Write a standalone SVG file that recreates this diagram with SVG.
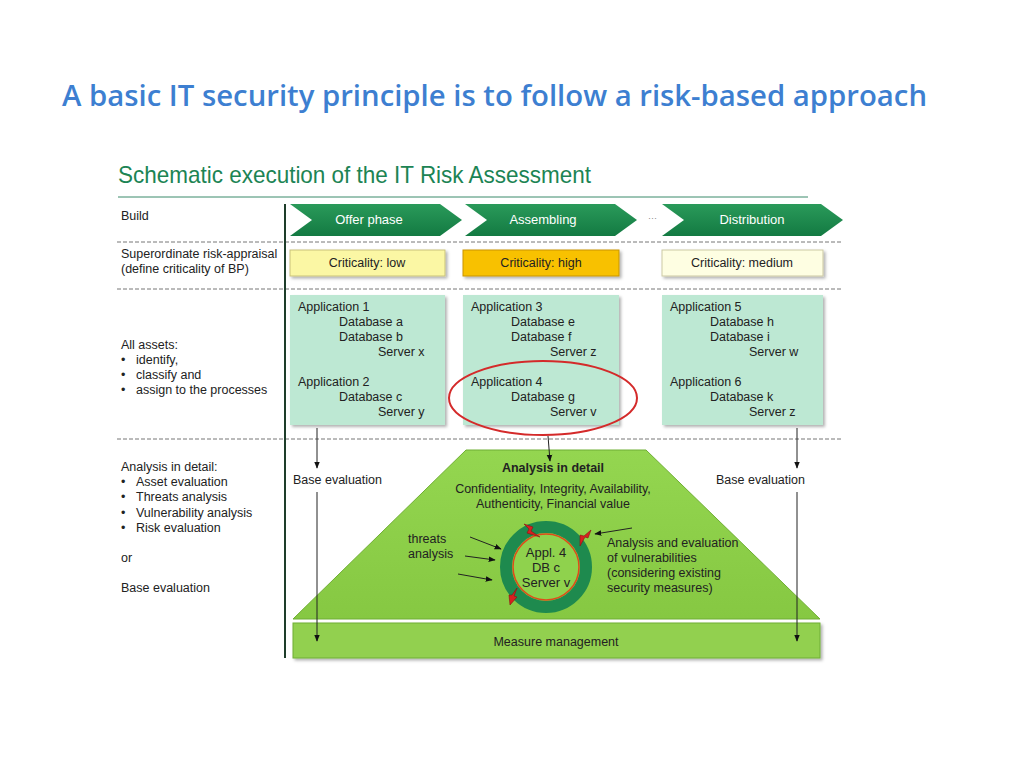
<svg xmlns="http://www.w3.org/2000/svg" width="1024" height="768" viewBox="0 0 1024 768">
<defs>
<linearGradient id="chev" x1="0" y1="0" x2="0" y2="1"><stop offset="0" stop-color="#2a9a5a"/><stop offset="1" stop-color="#137a42"/></linearGradient>
<linearGradient id="trap" x1="0" y1="0" x2="0" y2="1"><stop offset="0" stop-color="#94d650"/><stop offset="1" stop-color="#86c842"/></linearGradient>
<marker id="ah" viewBox="0 0 10 10" refX="9" refY="5" markerWidth="7" markerHeight="7" orient="auto"><path d="M0,1 L10,5 L0,9 z" fill="#111"/></marker>
<filter id="sh" x="-5%" y="-5%" width="115%" height="125%"><feDropShadow dx="2" dy="2" stdDeviation="1.5" flood-color="#000" flood-opacity="0.3"/></filter>
</defs>
<style>
text{font-family:"Liberation Sans",Arial,sans-serif;font-size:12.5px;fill:#222}
.c{text-anchor:middle}
.w{fill:#fff;font-size:13px}
.dash{stroke:#777;stroke-width:1;stroke-dasharray:4,2}
.asset{fill:#bde8d3;filter:url(#sh)}
.ln{stroke:#222;stroke-width:1;fill:none}
.bolt{fill:#d82020;stroke:#8a1010;stroke-width:0.6}
</style>
<rect width="1024" height="768" fill="#fff"/>
<text x="62" y="106" textLength="865" lengthAdjust="spacingAndGlyphs" style="font-family:'Open Sans','Liberation Sans',sans-serif;font-size:28px;font-weight:600;fill:#3d7fd1">A basic IT security principle is to follow a risk-based approach</text>
<text x="118" y="183" textLength="473" lengthAdjust="spacingAndGlyphs" style="font-size:24px;fill:#1c8454">Schematic execution of the IT Risk Assessment</text>
<line x1="118" y1="197" x2="808" y2="197" stroke="#3a8a6a" stroke-width="1"/>

<g id="grid">
<line class="dash" x1="117" y1="242" x2="843" y2="242"/>
<line class="dash" x1="117" y1="289" x2="843" y2="289"/>
<line class="dash" x1="117" y1="439" x2="843" y2="439"/>
<line x1="285" y1="204" x2="285" y2="658" stroke="#1e3d2a" stroke-width="2"/>
</g>

<g id="labels">
<text x="121" y="220">Build</text>
<text x="121" y="258">Superordinate risk-appraisal</text>
<text x="121" y="273">(define criticality of BP)</text>
<text x="121" y="349">All assets:</text>
<text x="121" y="364">•</text><text x="136" y="364">identify,</text>
<text x="121" y="379">•</text><text x="136" y="379">classify and</text>
<text x="121" y="394">•</text><text x="136" y="394">assign to the processes</text>
<text x="121" y="471">Analysis in detail:</text>
<text x="121" y="486">•</text><text x="136" y="486">Asset evaluation</text>
<text x="121" y="501">•</text><text x="136" y="501">Threats analysis</text>
<text x="121" y="517">•</text><text x="136" y="517">Vulnerability  analysis</text>
<text x="121" y="532">•</text><text x="136" y="532">Risk evaluation</text>
<text x="121" y="562">or</text>
<text x="121" y="592">Base evaluation</text>
</g>

<g id="phase-offer"><path d="M290,204 L440,204 L462,220 L440,236 L290,236 L312,220 Z" fill="url(#chev)"/><text class="c w" x="369" y="224">Offer phase</text></g>
<g id="phase-assembling"><path d="M465,204 L615,204 L637,220 L615,236 L465,236 L487,220 Z" fill="url(#chev)"/><text class="c w" x="543" y="224">Assembling</text></g>
<text x="648" y="221" style="font-size:9px;fill:#888">···</text>
<g id="phase-distribution"><path d="M662,204 L821,204 L843,220 L821,236 L662,236 L684,220 Z" fill="url(#chev)"/><text class="c w" x="752" y="224">Distribution</text></g>

<g id="crit-low"><rect x="290" y="250" width="155" height="26" fill="#fbf7a4" stroke="#c9c27a" stroke-width="1" filter="url(#sh)"/><text class="c" x="367" y="267">Criticality:  low</text></g>
<g id="crit-high"><rect x="463" y="250" width="156" height="26" fill="#f8c102" stroke="#c99400" stroke-width="1" filter="url(#sh)"/><text class="c" x="541" y="267">Criticality:  high</text></g>
<g id="crit-medium"><rect x="662" y="250" width="161" height="26" fill="#fefee2" stroke="#ccc9a4" stroke-width="1" filter="url(#sh)"/><text class="c" x="742" y="267">Criticality:  medium</text></g>

<g id="assets-1"><rect class="asset" x="290" y="295" width="155" height="130"/>
<text x="298" y="311">Application  1</text><text x="339" y="326">Database a</text><text x="339" y="341">Database b</text><text x="378" y="356">Server x</text>
<text x="298" y="386">Application  2</text><text x="339" y="401">Database c</text><text x="378" y="416">Server y</text></g>
<g id="assets-2"><rect class="asset" x="463" y="295" width="156" height="130"/>
<text x="471" y="311">Application  3</text><text x="511" y="326">Database e</text><text x="511" y="341">Database f</text><text x="550" y="356">Server z</text>
<text x="471" y="386">Application  4</text><text x="511" y="401">Database g</text><text x="550" y="416">Server v</text></g>
<g id="assets-3"><rect class="asset" x="662" y="295" width="161" height="130"/>
<text x="670" y="311">Application  5</text><text x="710" y="326">Database h</text><text x="710" y="341">Database i</text><text x="749" y="356">Server w</text>
<text x="670" y="386">Application  6</text><text x="710" y="401">Database k</text><text x="749" y="416">Server z</text></g>
<ellipse id="highlight" cx="543" cy="398" rx="94" ry="37" fill="none" stroke="#d42a2a" stroke-width="2"/>

<g id="analysis">
<path d="M466,450 L646,450 L820,619 L293,619 Z" fill="url(#trap)" stroke="#6fae34" stroke-width="1"/>
<text class="c" x="553" y="472" style="font-weight:bold">Analysis  in detail</text>
<text class="c" x="553" y="493">Confidentiality,  Integrity,  Availability,</text>
<text class="c" x="553" y="508">Authenticity,  Financial value</text>
<circle cx="546" cy="567" r="40" fill="none" stroke="#1e8a4e" stroke-width="12"/>
<circle cx="546" cy="567" r="33" fill="#8fd24d" stroke="#e04a1a" stroke-width="1.5"/>
<text class="c" x="546" y="557" style="font-size:13px">Appl.  4</text>
<text class="c" x="546" y="572" style="font-size:13px">DB c</text>
<text class="c" x="546" y="587" style="font-size:13px">Server v</text>
<path class="bolt" d="M524,524 L533,527 L531,531 L540,537 L527,533 L529,529 Z"/>
<path class="bolt" d="M591,530 L588,538 L585,537 L580,546 L580,535 L584,536 Z"/>
<path class="bolt" d="M517,588 L514,596 L517,597 L510,605 L509,595 L512,595 Z"/>
<text x="408" y="543">threats</text>
<text x="408" y="558">analysis</text>
<line class="ln" x1="470" y1="537" x2="501" y2="549" marker-end="url(#ah)"/>
<line class="ln" x1="465" y1="556" x2="495" y2="560" marker-end="url(#ah)"/>
<line class="ln" x1="458" y1="574" x2="492" y2="580" marker-end="url(#ah)"/>
<line class="ln" x1="632" y1="528" x2="595" y2="534" marker-end="url(#ah)"/>
<text x="607" y="547">Analysis and evaluation</text>
<text x="607" y="562">of vulnerabilities</text>
<text x="607" y="577">(considering existing</text>
<text x="607" y="592">security measures)</text>
</g>

<g id="measure"><rect x="293" y="623" width="527" height="35" fill="#92d050" stroke="#6fae34" stroke-width="1" filter="url(#sh)"/><text class="c" x="556" y="646">Measure management</text></g>

<g id="connectors">
<line class="ln" x1="317" y1="428" x2="317" y2="468" marker-end="url(#ah)"/>
<text x="293" y="484">Base evaluation</text>
<line class="ln" x1="317" y1="492" x2="317" y2="641" marker-end="url(#ah)"/>
<line class="ln" x1="797" y1="428" x2="797" y2="468" marker-end="url(#ah)"/>
<text x="716" y="484">Base evaluation</text>
<line class="ln" x1="797" y1="492" x2="797" y2="641" marker-end="url(#ah)"/>
<line class="ln" x1="548" y1="436" x2="550" y2="461" marker-end="url(#ah)"/>
</g>
</svg>
